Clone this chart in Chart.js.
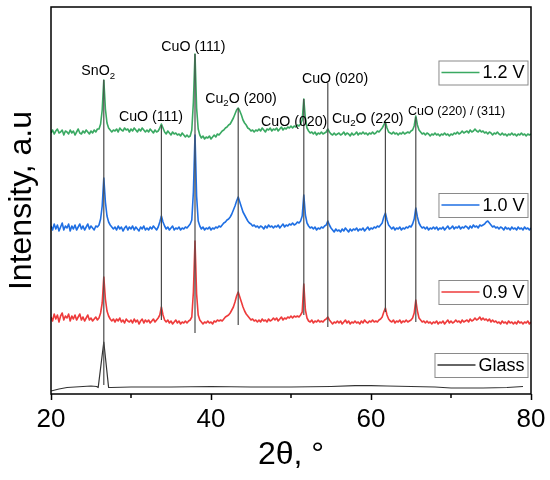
<!DOCTYPE html>
<html><head><meta charset="utf-8">
<script src="https://cdn.jsdelivr.net/npm/chart.js@4.4.1/dist/chart.umd.min.js"></script>
<style>html,body{margin:0;padding:0;background:#fff;}#wrap{width:550px;height:480px;}</style>
</head><body><div id="wrap"><canvas id="c" width="550" height="480"></canvas></div>
<script>
const FONT = '"Liberation Sans", Arial, Helvetica, sans-serif';

// 2θ scan grid (degrees): start and step of the diffractometer scan
const scanStart = 20, scanStep = 0.2;

const seriesNames = ['1.2 V', '1.0 V', '0.9 V', 'Glass'];

// intensities (a.u., offset-stacked as in the figure), one value per scan step 20.0 ... 80.0
const int12 = [
259,262,258,261,263,259,260,262,257,261,
260,258,262,259,261,257,260,263,259,258,
261,259,262,260,258,261,259,262,260,263,
263,268,282,312,283,269,264,262,260,262,
261,263,260,264,262,261,264,262,263,260,
263,261,264,262,260,263,261,264,262,260,
262,260,263,261,259,262,260,261,264,268,
264,260,258,261,259,257,260,258,259,257,
258,256,259,257,255,257,255,256,262,290,
338,284,263,257,254,256,253,255,254,256,
253,255,257,255,258,257,259,261,262,264,
265,267,268,271,274,278,282,284,281,277,
272,269,267,264,263,261,262,260,262,261,
263,261,264,262,260,263,262,264,261,263,
262,264,261,263,265,262,264,263,265,264,
266,264,266,265,267,266,268,272,293,273,
264,261,259,260,258,260,257,259,258,260,
258,259,260,263,260,258,257,259,257,258,
259,257,258,260,257,259,258,256,259,257,
258,260,257,259,258,260,258,259,257,259,
258,260,258,259,261,260,262,264,267,270,
264,260,259,258,260,258,259,257,259,258,
260,258,259,260,259,261,262,266,276,267,
262,260,258,259,257,259,258,256,258,257,
259,257,258,256,258,257,259,257,258,256,
258,257,259,258,260,258,259,261,259,260,
261,259,262,260,261,263,261,260,262,260,
261,259,260,258,260,259,257,259,258,260,
258,257,259,257,258,256,258,257,259,257,
258,256,258,257,259,257,258,256,258,257,
258];

const int10 = [
166,162,168,163,167,161,165,169,162,166,
164,168,161,166,163,167,162,165,168,163,
166,162,165,168,163,166,164,162,166,165,
167,173,186,214,190,176,170,167,165,163,
165,162,166,163,165,161,164,166,162,165,
163,166,162,165,163,161,165,163,166,162,
164,162,165,163,166,164,162,165,170,176,
170,166,163,165,162,164,166,162,164,163,
165,162,164,163,165,164,166,168,172,200,
257,196,171,166,163,165,162,164,163,165,
162,164,163,165,164,166,165,167,169,170,
172,173,175,178,182,186,191,195,190,185,
180,177,174,171,169,168,166,167,165,166,
164,166,165,163,166,164,167,165,166,164,
166,165,167,164,166,168,165,167,166,168,
167,169,167,168,170,169,171,176,197,177,
169,166,164,165,163,165,162,164,163,165,
164,166,167,171,167,164,162,160,163,161,
162,160,163,161,164,162,160,163,161,163,
162,164,161,163,162,164,161,163,165,162,
164,163,165,164,166,165,167,169,175,179,
172,167,165,163,165,162,164,163,165,162,
164,163,165,164,166,165,168,173,184,175,
169,166,164,165,163,165,162,164,163,165,
163,165,162,164,163,165,162,164,166,163,
164,166,163,165,164,166,163,165,164,166,
165,163,166,164,167,165,166,164,167,166,
167,168,170,171,169,167,165,166,164,165,
163,165,164,162,165,163,164,162,165,163,
164,162,165,163,164,162,165,163,164,162,
164];

const int09 = [
75,71,78,73,77,70,76,79,72,76,
74,78,71,76,73,77,72,75,78,72,
75,71,74,77,72,74,71,73,75,72,
74,79,89,115,93,81,76,73,71,73,
70,73,71,74,70,72,69,73,71,70,
72,69,73,70,72,68,71,73,69,72,
70,72,69,71,73,70,72,74,77,85,
77,72,70,72,69,71,68,70,72,69,
71,68,70,69,71,69,71,72,75,100,
151,98,77,72,70,68,70,69,71,69,
70,68,71,70,72,71,72,71,73,75,
76,77,79,82,85,90,96,100,95,90,
85,81,78,76,74,72,73,71,72,70,
72,70,73,71,72,70,73,71,72,74,
72,74,71,73,75,72,74,73,75,74,
76,74,76,75,76,75,77,80,108,82,
74,71,70,72,69,71,70,72,70,71,
70,72,73,75,72,70,68,70,69,71,
69,71,68,70,72,69,71,68,70,69,
71,69,70,68,71,69,72,70,69,71,
70,72,70,71,70,72,73,75,80,84,
77,73,71,70,72,69,71,70,72,69,
71,70,72,70,71,72,74,79,92,81,
74,72,70,71,69,71,69,70,68,70,
69,71,68,70,69,71,68,70,72,69,
71,69,70,72,70,71,69,72,70,71,
72,70,73,71,72,74,72,73,75,72,
74,72,73,71,73,70,72,70,71,69,
70,68,71,69,70,68,71,69,70,68,
70,68,71,69,70,68,70,69,71,68,
70];

const glassTheta = [20, 21, 22, 23, 24, 25, 25.7, 25.9, 26.6, 27.2, 27.5, 30, 35, 40, 45, 50, 55, 58, 60, 62, 65, 68, 70, 74, 77, 79];
const glassInt   = [1, 3, 4.5, 5, 5.5, 6, 5.5, 4.5, 50, 4.5, 4.5, 5, 5, 5.5, 5, 5, 5.5, 6.3, 6.3, 6, 5.5, 5, 4, 4, 4.5, 5.5];

// reflection marker lines: position, upper and lower intensity ends
const peakPos    = [26.6, 33.8, 38.0, 43.4, 51.6, 54.6, 61.8, 65.6];
const peakTop    = [312, 267, 338, 284, 293, 309, 269, 275];
const peakBottom = [7, 72, 59, 67, 77, 65, 80, 70];

// reflection annotations ("_" marks a one-character subscript)
const peakLabels = ['SnO_2', 'CuO (111)', 'CuO (111)', 'Cu_2O (200)', 'CuO (020)', 'CuO (020)', 'Cu_2O (220)', 'CuO (220) / (311)'];
const labelTheta = [25.9, 32.5, 37.8, 43.75, 50.4, 55.5, 59.6, 70.7];
const labelInt   = [320.5, 274.5, 344.5, 293, 270, 313, 273, 280.5];

const xMajorTicks = [20, 40, 60, 80];
const xMinorTicks = [30, 50, 70];

// ---------- styles ----------
const seriesColors = ['#3aa962', '#1f6fe3', '#ee3b3b', '#333333'];
const labelSizes = [14.2, 14.2, 14.2, 14.2, 14.2, 14.2, 14.2, 12.5];
const legendOffsetY = [65.5, 198, 285, 358]; // box centers, px below plot top

const toXY = (ys) => ys.map((v, i) => ({x: +(scanStart + scanStep * i).toFixed(1), y: v}));

const datasets = [];
peakPos.forEach((p, i) => {
  datasets.push({
    label: 'marker' + i,
    data: [{x: p, y: peakBottom[i]}, {x: p, y: peakTop[i]}],
    borderColor: '#4a4a4a', borderWidth: 1.2, pointRadius: 0, order: 0
  });
});
[int12, int10, int09].forEach((arr, k) => {
  datasets.push({
    label: seriesNames[k], data: toXY(arr),
    borderColor: seriesColors[k], borderWidth: 1.6, pointRadius: 0, order: k + 1, tension: 0
  });
});
datasets.push({
  label: seriesNames[3], data: glassTheta.map((t, i) => ({x: t, y: glassInt[i]})),
  borderColor: seriesColors[3], borderWidth: 1.2, pointRadius: 0, order: 4
});

function drawRich(ctx, text, cx, cy, size) {
  const segs = [];
  let buf = '';
  for (let i = 0; i < text.length; i++) {
    if (text[i] === '_' && i + 1 < text.length) {
      if (buf) segs.push({t: buf, sub: false});
      segs.push({t: text[i + 1], sub: true});
      buf = ''; i++;
    } else buf += text[i];
  }
  if (buf) segs.push({t: buf, sub: false});
  const subSize = size * 0.68;
  let total = 0;
  segs.forEach(s => {
    ctx.font = (s.sub ? subSize : size) + 'px ' + FONT;
    s.w = ctx.measureText(s.t).width; total += s.w;
  });
  let x = cx - total / 2;
  ctx.textBaseline = 'middle';
  ctx.textAlign = 'left';
  ctx.fillStyle = '#000';
  segs.forEach(s => {
    ctx.font = (s.sub ? subSize : size) + 'px ' + FONT;
    ctx.fillText(s.t, x, s.sub ? cy + size * 0.32 : cy);
    x += s.w;
  });
}

const decor = {
  id: 'decor',
  afterDatasetsDraw(chart) {
    const ctx = chart.ctx, a = chart.chartArea;
    const xs = chart.scales.x, ys = chart.scales.y;
    ctx.save();
    peakLabels.forEach((t, i) => {
      drawRich(ctx, t, xs.getPixelForValue(labelTheta[i]), ys.getPixelForValue(labelInt[i]), labelSizes[i]);
    });
    seriesNames.forEach((name, i) => {
      ctx.font = '18px ' + FONT;
      const tw = ctx.measureText(name).width;
      const w = 2 + 38 + 4 + tw + 3, h = 24;
      const right = a.right - 3.5;
      const x0 = right - w, cy = a.top + legendOffsetY[i];
      ctx.fillStyle = '#fff';
      ctx.fillRect(x0, cy - h / 2, w, h);
      ctx.strokeStyle = '#8a8a8a'; ctx.lineWidth = 1;
      ctx.strokeRect(x0 + 0.5, cy - h / 2 + 0.5, w, h);
      ctx.strokeStyle = seriesColors[i]; ctx.lineWidth = 1.5;
      ctx.beginPath(); ctx.moveTo(x0 + 3, cy); ctx.lineTo(x0 + 41, cy); ctx.stroke();
      ctx.fillStyle = '#000'; ctx.textBaseline = 'middle'; ctx.textAlign = 'left';
      ctx.fillText(name, x0 + 44, cy + 1);
    });
    ctx.strokeStyle = '#000'; ctx.lineWidth = 1.5;
    ctx.strokeRect(a.left, a.top, a.right - a.left, a.bottom - a.top);
    xMinorTicks.forEach(v => {
      const px = xs.getPixelForValue(v);
      ctx.beginPath(); ctx.moveTo(px, a.bottom); ctx.lineTo(px, a.bottom + 4); ctx.stroke();
    });
    ctx.restore();
  }
};

new Chart(document.getElementById('c'), {
  type: 'line',
  data: {datasets},
  options: {
    responsive: false, animation: false, devicePixelRatio: 1,
    layout: {padding: {top: 7, right: 19, bottom: 0, left: 0}},
    plugins: {legend: {display: false}, tooltip: {enabled: false}},
    elements: {line: {borderJoinStyle: 'round'}},
    scales: {
      x: {
        type: 'linear', min: 20, max: 80,
        afterBuildTicks(s) { s.ticks = xMajorTicks.map(v => ({value: v})); },
        afterFit(s) { s.height = 86; },
        ticks: {font: {family: FONT, size: 26}, color: '#000', padding: 4, maxRotation: 0, autoSkip: false},
        grid: {display: true, drawOnChartArea: false, drawTicks: true, tickLength: 6, tickColor: '#000', tickWidth: 1.5},
        border: {display: false},
        title: {display: true, text: '2θ, °', font: {family: FONT, size: 32}, color: '#000', padding: {top: 0, bottom: 6}}
      },
      y: {
        type: 'linear', min: -2, max: 385,
        afterFit(s) { s.width = 51; },
        ticks: {display: false},
        grid: {display: false},
        border: {display: false},
        title: {display: true, text: 'Intensity, a.u', font: {family: FONT, size: 32}, color: '#000', padding: {top: 3, bottom: 0}}
      }
    }
  },
  plugins: [decor]
});
</script></body></html>
